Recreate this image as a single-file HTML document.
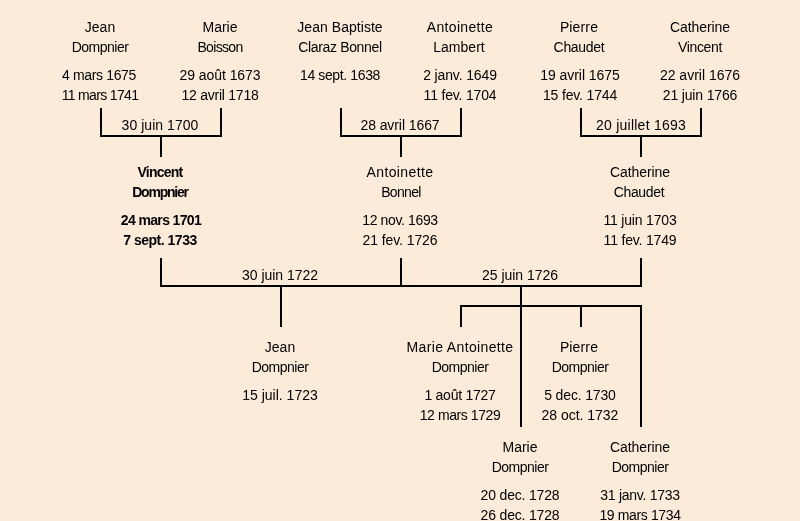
<!DOCTYPE html><html><head><meta charset="utf-8"><title>Arbre</title><style>
html,body{margin:0;padding:0}
body{width:800px;height:521px;background:#FCEBD9;position:relative;overflow:hidden;font-family:"Liberation Sans",sans-serif;font-size:14px;color:#000}
.t{position:absolute;width:200px;text-align:center;white-space:nowrap;line-height:20px;height:20px;will-change:transform}
.b{font-weight:bold}
.l{position:absolute;background:#000}
</style></head><body>
<div class="l" style="left:100px;top:108px;width:2px;height:29px"></div>
<div class="l" style="left:220px;top:108px;width:2px;height:29px"></div>
<div class="l" style="left:100px;top:135px;width:122px;height:2px"></div>
<div class="l" style="left:160px;top:137px;width:2px;height:20px"></div>
<div class="l" style="left:340px;top:108px;width:2px;height:29px"></div>
<div class="l" style="left:460px;top:108px;width:2px;height:29px"></div>
<div class="l" style="left:340px;top:135px;width:122px;height:2px"></div>
<div class="l" style="left:400px;top:137px;width:2px;height:20px"></div>
<div class="l" style="left:580px;top:108px;width:2px;height:29px"></div>
<div class="l" style="left:700px;top:108px;width:2px;height:29px"></div>
<div class="l" style="left:580px;top:135px;width:122px;height:2px"></div>
<div class="l" style="left:640px;top:137px;width:2px;height:20px"></div>
<div class="l" style="left:160px;top:258px;width:2px;height:29px"></div>
<div class="l" style="left:400px;top:258px;width:2px;height:29px"></div>
<div class="l" style="left:640px;top:258px;width:2px;height:29px"></div>
<div class="l" style="left:160px;top:285px;width:482px;height:2px"></div>
<div class="l" style="left:280px;top:287px;width:2px;height:40px"></div>
<div class="l" style="left:520px;top:287px;width:2px;height:140px"></div>
<div class="l" style="left:460px;top:305px;width:182px;height:2px"></div>
<div class="l" style="left:460px;top:305px;width:2px;height:22px"></div>
<div class="l" style="left:580px;top:305px;width:2px;height:22px"></div>
<div class="l" style="left:640px;top:305px;width:2px;height:122px"></div>
<div class="t" style="left:0px;top:17px;">Jean</div>
<div class="t" style="left:-0.5px;top:37px;letter-spacing:-0.5px;">Dompnier</div>
<div class="t" style="left:-0.77px;top:65px;letter-spacing:-0.35px;">4 mars 1675</div>
<div class="t" style="left:0.07px;top:85px;letter-spacing:-0.659px;">11 mars 1741</div>
<div class="t" style="left:120px;top:17px;">Marie</div>
<div class="t" style="left:120.07px;top:37px;letter-spacing:-0.667px;">Boisson</div>
<div class="t" style="left:120.23px;top:65px;letter-spacing:-0.045px;">29 août 1673</div>
<div class="t" style="left:120.27px;top:85px;letter-spacing:-0.251px;">12 avril 1718</div>
<div class="t" style="left:239.77px;top:17px;letter-spacing:0.042px;">Jean Baptiste</div>
<div class="t" style="left:240.22px;top:37px;letter-spacing:-0.354px;">Claraz Bonnel</div>
<div class="t" style="left:240.06px;top:65px;letter-spacing:-0.375px;">14 sept. 1638</div>
<div class="t" style="left:360.17px;top:17px;letter-spacing:0.333px;">Antoinette</div>
<div class="t" style="left:359.42px;top:37px;letter-spacing:0.033px;">Lambert</div>
<div class="t" style="left:359.93px;top:65px;letter-spacing:-0.136px;">2 janv. 1649</div>
<div class="t" style="left:360.31px;top:85px;letter-spacing:-0.183px;">11 fev. 1704</div>
<div class="t" style="left:479.18px;top:17px;letter-spacing:0.15px;">Pierre</div>
<div class="t" style="left:479.25px;top:37px;letter-spacing:-0.3px;">Chaudet</div>
<div class="t" style="left:480.37px;top:65px;letter-spacing:-0.062px;">19 avril 1675</div>
<div class="t" style="left:480.32px;top:85px;letter-spacing:-0.159px;">15 fev. 1744</div>
<div class="t" style="left:600.22px;top:17px;letter-spacing:-0.062px;">Catherine</div>
<div class="t" style="left:599.83px;top:37px;letter-spacing:-0.334px;">Vincent</div>
<div class="t" style="left:600.4px;top:65px;letter-spacing:0.001px;">22 avril 1676</div>
<div class="t" style="left:600.32px;top:85px;letter-spacing:-0.162px;">21 juin 1766</div>
<div class="t" style="left:59.77px;top:115px;letter-spacing:0.045px;">30 juin 1700</div>
<div class="t" style="left:300.06px;top:115px;letter-spacing:-0.083px;">28 avril 1667</div>
<div class="t" style="left:540.52px;top:115px;letter-spacing:0.25px;">20 juillet 1693</div>
<div class="t b" style="left:60.02px;top:162px;letter-spacing:-0.766px;">Vincent</div>
<div class="t b" style="left:60.34px;top:182px;letter-spacing:-1.229px;">Dompnier</div>
<div class="t b" style="left:60.53px;top:210px;letter-spacing:-0.636px;">24 mars 1701</div>
<div class="t b" style="left:60.15px;top:230px;letter-spacing:-0.491px;">7 sept. 1733</div>
<div class="t" style="left:300.34px;top:162px;letter-spacing:0.389px;">Antoinette</div>
<div class="t" style="left:300.72px;top:182px;letter-spacing:-0.66px;">Bonnel</div>
<div class="t" style="left:300.22px;top:210px;letter-spacing:-0.364px;">12 nov. 1693</div>
<div class="t" style="left:300.35px;top:230px;letter-spacing:-0.091px;">21 fev. 1726</div>
<div class="t" style="left:540.07px;top:162px;letter-spacing:-0.062px;">Catherine</div>
<div class="t" style="left:539.33px;top:182px;letter-spacing:-0.333px;">Chaudet</div>
<div class="t" style="left:540.46px;top:210px;letter-spacing:-0.182px;">11 juin 1703</div>
<div class="t" style="left:540.46px;top:230px;letter-spacing:-0.182px;">11 fev. 1749</div>
<div class="t" style="left:180.39px;top:265px;letter-spacing:-0.023px;">30 juin 1722</div>
<div class="t" style="left:420.44px;top:265px;letter-spacing:-0.023px;">25 juin 1726</div>
<div class="t" style="left:180.1px;top:337px;">Jean</div>
<div class="t" style="left:179.5px;top:357px;letter-spacing:-0.5px;">Dompnier</div>
<div class="t" style="left:180.2px;top:385px;">15 juil. 1723</div>
<div class="t" style="left:360.43px;top:337px;letter-spacing:0.367px;">Marie Antoinette</div>
<div class="t" style="left:359.5px;top:357px;letter-spacing:-0.5px;">Dompnier</div>
<div class="t" style="left:360.12px;top:385px;letter-spacing:-0.25px;">1 août 1727</div>
<div class="t" style="left:360.05px;top:405px;letter-spacing:-0.409px;">12 mars 1729</div>
<div class="t" style="left:479.18px;top:337px;letter-spacing:0.15px;">Pierre</div>
<div class="t" style="left:479.5px;top:357px;letter-spacing:-0.5px;">Dompnier</div>
<div class="t" style="left:479.68px;top:385px;letter-spacing:-0.15px;">5 dec. 1730</div>
<div class="t" style="left:480.39px;top:405px;letter-spacing:-0.023px;">28 oct. 1732</div>
<div class="t" style="left:420px;top:437px;">Marie</div>
<div class="t" style="left:419.6px;top:457px;letter-spacing:-0.5px;">Dompnier</div>
<div class="t" style="left:420.16px;top:485px;letter-spacing:-0.182px;">20 dec. 1728</div>
<div class="t" style="left:420.16px;top:505px;letter-spacing:-0.182px;">26 dec. 1728</div>
<div class="t" style="left:540.22px;top:437px;letter-spacing:-0.062px;">Catherine</div>
<div class="t" style="left:539.6px;top:457px;letter-spacing:-0.5px;">Dompnier</div>
<div class="t" style="left:539.76px;top:485px;letter-spacing:-0.271px;">31 janv. 1733</div>
<div class="t" style="left:540.32px;top:505px;letter-spacing:-0.364px;">19 mars 1734</div>
</body></html>
